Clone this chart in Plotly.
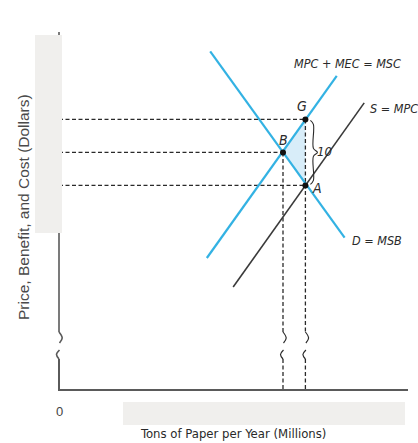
import plotly.graph_objects as go

# ---------------- data (abstract units) ----------------
demand_x = [27.0, 51.0]          # D = MSB
demand_y = [51.3, 23.1]
msc_x = [26.4, 49.6]             # MPC + MEC = MSC
msc_y = [20.0, 47.6]
supply_x = [31.1, 54.5]          # S = MPC
supply_y = [15.6, 43.5]

point_names = ["G", "B", "A"]
point_x = [44.0, 40.0, 44.0]
point_y = [41.0, 36.0, 31.0]

curve_labels = ["MPC + MEC = MSC", "S = MPC", "D = MSB"]
x_title = "Tons of Paper per Year (Millions)"
y_title = "Price, Benefit, and Cost (Dollars)"
gap_label = "10"

# ---------------- geometry helpers (pixel -> data) ----------------
W, H = 418, 443
OX, OY = 59.0, 390.0
KX, KY = 5.6, 6.6
def X(px): return (px - OX) / KX
def Y(py): return (OY - py) / KY
def DX(p): return p / KX
def DY(p): return p / KY

BLUE = "#33b2e3"
DARK = "#2a2a2a"
AXIS = "#5a5a5a"
BOX = "#f0efed"
NARROW = "DejaVu Sans Condensed, Liberation Sans Narrow, Arial Narrow, sans-serif"

fig = go.Figure()

def line(xs, ys, color, width, dash=None, shape="linear"):
    fig.add_trace(go.Scatter(x=xs, y=ys, mode="lines", hoverinfo="skip",
                             line=dict(color=color, width=width, dash=dash, shape=shape),
                             showlegend=False))

# shaded triangle B-G-A
gx, bx, ax_ = point_x
gy, by, ay = point_y
fig.add_trace(go.Scatter(x=[bx, gx, ax_, bx], y=[by, gy, ay, by], mode="lines",
                         fill="toself", fillcolor="rgba(190,225,245,0.6)",
                         line=dict(width=0), hoverinfo="skip", showlegend=False))

# axes with breaks
top_y = Y(32)
right_x = X(408)
b1_top, b1_bot = Y(332), Y(343)
b2_top, b2_bot = Y(350), Y(359)
line([0, 0], [top_y, b1_top], AXIS, 1.6)
line([0, DX(3.2), DX(0.5)], [b1_top, Y(338), b1_bot], AXIS, 1.6, shape="spline")
line([DX(0.5), DX(-2.5), 0], [b2_top, Y(354.5), b2_bot], AXIS, 1.6, shape="spline")
line([0, 0, right_x], [b2_bot, 0, 0], AXIS, 2.0)

# dashed guide lines
dash = "4px,2.5px"
for yv, xv in [(gy, gx), (by, bx), (ay, ax_)]:
    line([0, xv], [yv, yv], DARK, 1.3, dash)
for xv, yv in [(bx, by), (gx, gy)]:
    line([xv, xv], [yv, b1_top], DARK, 1.3, dash)
    line([xv, xv + DX(3.2), xv + DX(0.5)], [b1_top, Y(338), b1_bot], DARK, 1.2, shape="spline")
    line([xv + DX(0.5), xv + DX(-2.5), xv], [b2_top, Y(354.5), b2_bot], DARK, 1.2, shape="spline")
    line([xv, xv], [b2_bot, 0], DARK, 1.3, dash)

# curves
line(supply_x, supply_y, "#3a3a3a", 1.6)
line(demand_x, demand_y, BLUE, 2.2)
line(msc_x, msc_y, BLUE, 2.2)

# brace between G and A
bx0 = gx + DX(5)
line([bx0, bx0 + DX(3), bx0 + DX(3), bx0 + DX(7), bx0 + DX(3), bx0 + DX(3), bx0],
     [gy - DY(1), gy - DY(5), (gy + ay) / 2 + DY(4), (gy + ay) / 2, (gy + ay) / 2 - DY(4), ay + DY(5), ay + DY(1)],
     DARK, 1.1, shape="spline")

# points
fig.add_trace(go.Scatter(x=point_x, y=point_y, mode="markers", hoverinfo="skip",
                         marker=dict(color="#111111", size=6), showlegend=False))

def txt(x, y, s, size=13, color=DARK, family=NARROW, italic=True, anchor="center", angle=0):
    fig.add_annotation(x=x, y=y, text=s, showarrow=False, xanchor=anchor, yanchor="middle",
                       textangle=angle,
                       font=dict(size=size, color=color, family=family,
                                 style="italic" if italic else "normal"))

# point labels
txt(gx - DX(3), gy + DY(13), point_names[0], size=14)
txt(bx, by + DY(12), point_names[1], size=14)
txt(ax_ + DX(12), ay - DY(3), point_names[2], size=14)
txt(gx + DX(19), (gy + ay) / 2 + DY(1), gap_label, size=13)

# curve labels
txt(X(347), Y(63), curve_labels[0], size=12.5)
txt(X(368), Y(108), curve_labels[1], size=12.5, anchor="left")
txt(X(350), Y(240), curve_labels[2], size=12.5, anchor="left")

# redaction boxes (drawn above)
fig.add_shape(type="rect", x0=X(35), x1=X(62), y0=Y(35), y1=Y(233),
              fillcolor=BOX, line=dict(width=0), layer="above")
fig.add_shape(type="rect", x0=X(123), x1=X(405), y0=Y(402), y1=Y(425),
              fillcolor=BOX, line=dict(width=0), layer="above")

# axis titles and origin
txt(X(23), Y(207), y_title, size=15.5, color="#4a4a4a",
    family="Liberation Sans, Arial, sans-serif", italic=False, angle=-90)
txt(X(233), Y(433), x_title, size=13, color=DARK, italic=False)
txt(X(59), Y(411), "0", size=13, color="#444444",
    family="Liberation Sans, Arial, sans-serif", italic=False)

fig.update_layout(
    width=W, height=H, autosize=False,
    margin=dict(l=0, r=0, t=0, b=0),
    paper_bgcolor="white", plot_bgcolor="white",
    xaxis=dict(range=[X(0), X(W)], visible=False, fixedrange=True),
    yaxis=dict(range=[Y(H), Y(0)], visible=False, fixedrange=True),
    showlegend=False,
)

fig.write_html("out.html", config={"displayModeBar": False},
               post_script="document.body.style.margin='0';document.body.style.overflow='hidden';")
